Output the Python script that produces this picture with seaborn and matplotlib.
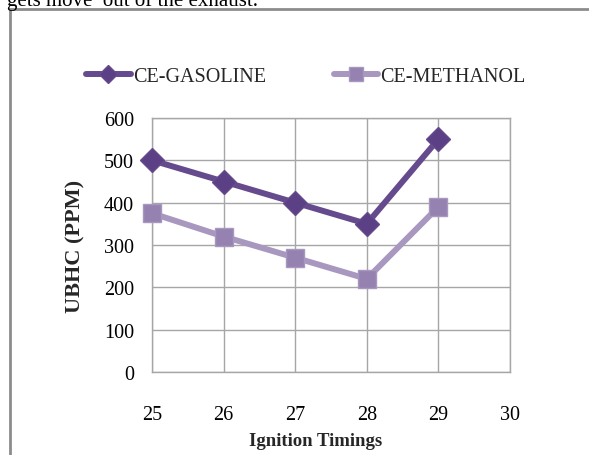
import matplotlib
matplotlib.use("Agg")
import matplotlib.pyplot as plt
from matplotlib.patches import Rectangle
import seaborn as sns
import pandas as pd

# ---- data ----
ignition_timings = [25, 26, 27, 28, 29]
ce_gasoline = [500, 450, 400, 350, 550]
ce_methanol = [375, 320, 270, 220, 390]
series_names = ["CE-GASOLINE", "CE-METHANOL"]
x_ticks = [25, 26, 27, 28, 29, 30]
y_ticks = [0, 100, 200, 300, 400, 500, 600]

df = pd.DataFrame({
    "timing": ignition_timings * 2,
    "ubhc": ce_gasoline + ce_methanol,
    "series": [series_names[0]] * len(ignition_timings) + [series_names[1]] * len(ignition_timings),
})

sns.set_theme(style="white")
plt.rcParams["font.family"] = ["Liberation Serif", "DejaVu Serif"]

W, H = 589, 456
fig = plt.figure(figsize=(W / 100, H / 100), dpi=100)
ax = fig.add_axes([152 / W, 1 - 373 / H, (510 - 152) / W, (373 - 119) / H])

colors = {"CE-GASOLINE": "#654b8d", "CE-METHANOL": "#a898c0"}
mface = {"CE-GASOLINE": "#5b4085", "CE-METHANOL": "#9582b0"}
markers = {"CE-GASOLINE": "D", "CE-METHANOL": "s"}
msizes = {"CE-GASOLINE": 12, "CE-METHANOL": 13}

for name in series_names:
    sub = df[df["series"] == name]
    sns.lineplot(data=sub, x="timing", y="ubhc", ax=ax, color=colors[name],
                 marker=markers[name], markersize=msizes[name], linewidth=4.3,
                 markerfacecolor=mface[name], markeredgecolor=colors[name],
                 markeredgewidth=1.0, label=name, clip_on=False, zorder=3)

ax.set_xlim(25, 30)
ax.set_ylim(0, 600)
ax.set_xticks(x_ticks)
ax.set_yticks(y_ticks)
ax.grid(True, color="#a6a6a6", linewidth=1.0)
ax.set_axisbelow(True)
for s in ax.spines.values():
    s.set_color("#a6a6a6")
    s.set_linewidth(1.0)
ax.tick_params(axis="x", length=0, pad=24, labelsize=14.5, colors="black")
ax.tick_params(axis="y", length=0, pad=13, labelsize=14.5, colors="black")
ax.set_xlabel("Ignition Timings", fontsize=13.5, fontweight="bold")
ax.set_ylabel("UBHC (PPM)", fontsize=16, fontweight="bold")
ax.xaxis.set_label_coords((316 - 152) / (510 - 152), -(441 - 373) / (373 - 119))
ax.xaxis.label.set_va("center")
ax.yaxis.set_label_coords(-(152 - 75) / (510 - 152), (373 - 246) / (373 - 119))
ax.yaxis.label.set_va("center")

ax.get_legend().remove()
handles, labels = ax.get_legend_handles_labels()
fig.legend(handles, labels, ncol=2, loc="center", bbox_to_anchor=(306 / W, 1 - 77 / H),
           frameon=False, fontsize=14.5, handlelength=2.2, handletextpad=0.1,
           columnspacing=3.4, markerscale=0.8)

# outer chart border and the document text above it
fig.patches.append(Rectangle((10 / W, -0.2), 1.2, 1.2 - 10 / H,
                             transform=fig.transFigure, fill=False,
                             edgecolor="#8c8c8c", linewidth=2.0))
fig.text(7 / W, 1 - 6 / H, "gets move  out of the exhaust.", fontsize=15,
         va="baseline", ha="left", color="black")

fig.savefig("out.png", dpi=100)
